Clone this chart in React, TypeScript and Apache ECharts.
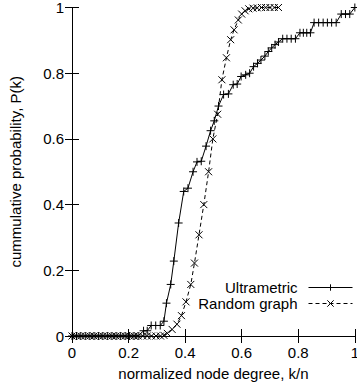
import React, { useEffect, useRef } from "react";
import * as echarts from "echarts";

const xTicks = ["0", "0.2", "0.4", "0.6", "0.8", "1"];
const yTicks = ["0", "0.2", "0.4", "0.6", "0.8", "1"];

const seriesNames = ["Ultrametric", "Random graph"];

const ultraX = [
  0, 0.016, 0.031, 0.047, 0.063, 0.078, 0.094, 0.109, 0.125, 0.141, 0.156, 0.172, 0.188, 0.203, 0.219, 0.234,
  0.253, 0.266, 0.28, 0.296, 0.312, 0.325, 0.334, 0.349, 0.36, 0.377, 0.395, 0.41, 0.428, 0.442, 0.457,
  0.474, 0.49, 0.503, 0.518, 0.536, 0.553, 0.57, 0.584, 0.598, 0.614, 0.628, 0.642, 0.656, 0.668, 0.682,
  0.694, 0.706, 0.718, 0.73, 0.745, 0.76, 0.775, 0.79, 0.806, 0.818, 0.83, 0.843, 0.856, 0.872, 0.888,
  0.903, 0.918, 0.934, 0.952, 0.967, 0.982, 1.0,
];
const ultraY = [
  0, 0, 0, 0, 0, 0, 0, 0, 0, 0, 0, 0, 0, 0, 0, 0,
  0.016, 0.016, 0.032, 0.032, 0.032, 0.045, 0.1, 0.157, 0.228, 0.344, 0.44, 0.45, 0.5, 0.53, 0.532,
  0.578, 0.625, 0.655, 0.7, 0.735, 0.737, 0.765, 0.767, 0.79, 0.795, 0.8, 0.82, 0.83, 0.84, 0.852,
  0.866, 0.877, 0.887, 0.895, 0.905, 0.905, 0.905, 0.905, 0.923, 0.923, 0.923, 0.923, 0.954, 0.954, 0.954,
  0.954, 0.954, 0.954, 0.98, 0.98, 0.98, 1.0,
];

const randX = [
  0, 0.016, 0.031, 0.047, 0.063, 0.078, 0.094, 0.109, 0.125, 0.141, 0.156, 0.172, 0.188, 0.203, 0.219, 0.234,
  0.25, 0.266, 0.281, 0.297, 0.313, 0.325, 0.337, 0.354, 0.371, 0.387, 0.403, 0.42, 0.433, 0.449, 0.466,
  0.483, 0.498, 0.515, 0.53, 0.546, 0.561, 0.573, 0.588, 0.6, 0.612, 0.625, 0.64, 0.655, 0.67, 0.685, 0.7,
  0.715, 0.73,
];
const randY = [
  0, 0, 0, 0, 0, 0, 0, 0, 0, 0, 0, 0, 0, 0, 0, 0,
  0, 0, 0, 0, 0, 0.002, 0.008, 0.02, 0.036, 0.062, 0.104, 0.157, 0.222, 0.308, 0.4,
  0.5, 0.6, 0.675, 0.78, 0.847, 0.902, 0.932, 0.962, 0.98, 0.99, 0.996, 0.998, 0.999, 1, 1, 1,
  1, 1,
];

const FONT = "'Liberation Sans', Arial, Helvetica, sans-serif";
const PLUS = "path://M5,0 L5,10 M0,5 L10,5";
const CROSS = "path://M0,0 L10,10 M0,10 L10,0";

export default function App() {
  const ref = useRef<HTMLDivElement>(null);
  useEffect(() => {
    if (!ref.current) return;
    const chart = echarts.init(ref.current, undefined, { renderer: "svg" });
    const ultra = ultraX.map((x, i) => [x, ultraY[i]]);
    const rand = randX.map((x, i) => [x, randY[i]]);
    const tickFmt = (arr: string[]) => (v: number) => arr[Math.round(v * 5)] ?? "";
    const axisCommon = {
      min: 0,
      max: 1,
      interval: 0.2,
      axisLine: { show: true, lineStyle: { color: "#000", width: 1 } },
      axisTick: { show: true, inside: true, length: 7, lineStyle: { color: "#000", width: 1 } },
      splitLine: { show: false },
    };
    chart.setOption({
      animation: false,
      backgroundColor: "#fff",
      textStyle: { fontFamily: FONT },
      grid: { left: 68, top: 7, width: 290, height: 329, containLabel: false },
      legend: {
        orient: "vertical",
        align: "right",
        right: 9,
        top: 280,
        itemWidth: 44,
        itemHeight: 8,
        itemGap: 1,
        padding: 0,
        lineStyle: { width: 1 },
        itemStyle: { borderWidth: 1 },
        textStyle: { fontFamily: FONT, fontSize: 15, color: "#000", padding: [0, 6, 0, 0] },
        data: seriesNames,
      },
      xAxis: [
        {
          ...axisCommon,
          type: "value",
          position: "bottom",
          name: "normalized node degree, k/n",
          nameLocation: "middle",
          nameGap: 30,
          nameTextStyle: { fontFamily: FONT, fontSize: 15, color: "#000" },
          axisLabel: { show: true, margin: 9, fontFamily: FONT, fontSize: 15, color: "#000", formatter: tickFmt(xTicks) },
        },
        {
          ...axisCommon,
          type: "value",
          position: "top",
          axisLabel: { show: false },
        },
      ],
      yAxis: [
        {
          ...axisCommon,
          type: "value",
          position: "left",
          name: "cummulative probability, P(k)",
          nameLocation: "middle",
          nameRotate: 90,
          nameGap: 49,
          nameTextStyle: { fontFamily: FONT, fontSize: 15, color: "#000" },
          axisLabel: { show: true, margin: 8, fontFamily: FONT, fontSize: 15, color: "#000", formatter: tickFmt(yTicks) },
        },
        {
          ...axisCommon,
          type: "value",
          position: "right",
          axisLabel: { show: false },
        },
      ],
      series: [
        {
          name: seriesNames[0],
          type: "line",
          data: ultra,
          clip: false,
          symbol: PLUS,
          symbolSize: 8,
          showSymbol: true,
          showAllSymbol: true,
          lineStyle: { color: "#000", width: 1, type: "solid" },
          itemStyle: { color: "#000", borderColor: "#000", borderWidth: 1 },
          z: 3,
        },
        {
          name: seriesNames[1],
          type: "line",
          data: rand,
          clip: false,
          symbol: CROSS,
          symbolSize: 7,
          showSymbol: true,
          showAllSymbol: true,
          lineStyle: { color: "#000", width: 1, type: [4, 3] },
          itemStyle: { color: "#000", borderColor: "#000", borderWidth: 1 },
          z: 2,
        },
      ],
    });
    return () => chart.dispose();
  }, []);
  return (
    <div
      ref={ref}
      style={{ position: "absolute", left: 0, top: 0, width: 362, height: 390 }}
    />
  );
}
